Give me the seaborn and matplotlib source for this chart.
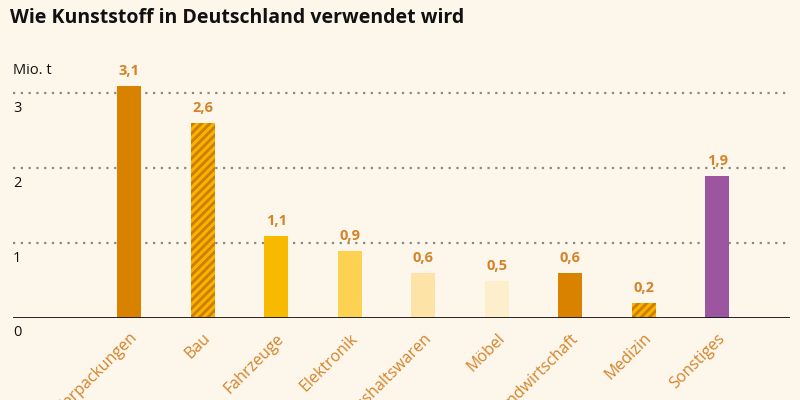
import matplotlib
matplotlib.use("Agg")
import matplotlib.pyplot as plt
import seaborn as sns
import pandas as pd

# Data (Mio. t)
categories = ["Verpackungen", "Bau", "Fahrzeuge", "Elektronik", "Haushaltswaren",
              "Möbel", "Landwirtschaft", "Medizin", "Sonstiges"]
values = [3.1, 2.6, 1.1, 0.9, 0.6, 0.5, 0.6, 0.2, 1.9]
value_labels = ["3,1", "2,6", "1,1", "0,9", "0,6", "0,5", "0,6", "0,2", "1,9"]
bar_colors = ["#D98200", "#F6B400", "#F8BA00", "#FDD252", "#FDE4A6",
              "#FDEFCB", "#D98200", "#F6B400", "#9C559F"]
hatched = [False, True, False, False, False, False, False, True, False]
y_ticks = [0, 1, 2, 3]

BG = "#FDF6EA"
LABEL_COLOR = "#D4832A"
HATCH_COLOR = "#CF7C00"

sns.set_theme(style="white")
plt.rcParams["font.family"] = ["Open Sans", "DejaVu Sans"]
plt.rcParams["hatch.linewidth"] = 2.0

df = pd.DataFrame({"Kategorie": categories, "Wert": values})

fig = plt.figure(figsize=(8, 4), dpi=100, facecolor=BG)
ax = fig.add_axes([13 / 800, 82 / 400, 777 / 800, 255 / 400])
ax.set_facecolor(BG)

sns.barplot(data=df, x="Kategorie", y="Wert", hue="Kategorie",
            palette=bar_colors, legend=False, width=0.33, saturation=1,
            ax=ax)

for patch, h in zip(ax.patches, hatched):
    if h:
        patch.set_hatch("////")
        patch.set_edgecolor(HATCH_COLOR)
    patch.set_linewidth(0)

ax.set_xlim(-1.58, 8.99)
ax.set_ylim(0, 3.4)

# dotted grid lines
for t in y_ticks[1:]:
    ax.axhline(t, color="#8A8A80", linestyle=(0, (1, 2.5)), linewidth=1.6,
               zorder=0)
ax.axhline(0, color="#111111", linewidth=2, zorder=3)

for s in ax.spines.values():
    s.set_visible(False)

ax.set_yticks([])
for t in y_ticks:
    ax.text(0, t - 0.1, str(t), transform=ax.get_yaxis_transform(),
            ha="left", va="top", fontsize=10.5, color="#111111")
ax.text(0, 3.2, "Mio. t", transform=ax.get_yaxis_transform(),
        ha="left", va="bottom", fontsize=10.5, color="#111111")

# value labels
for i, (v, lab) in enumerate(zip(values, value_labels)):
    ax.text(i, v + 0.1, lab, ha="center", va="bottom", fontsize=10.5,
            fontweight="bold", color=LABEL_COLOR)

ax.set_xlabel("")
ax.set_ylabel("")
ax.set_xticks(range(len(categories)))
ax.set_xticklabels(categories, rotation=45, ha="right",
                   rotation_mode="anchor", fontsize=11.5, color=LABEL_COLOR)
ax.tick_params(axis="x", length=0, pad=9)

fig.text(10 / 800, 1 - 18 / 400, "Wie Kunststoff in Deutschland verwendet wird",
         ha="left", va="center", fontsize=14, fontweight="bold",
         color="#111111")

fig.savefig("out.png", dpi=100, facecolor=BG)
